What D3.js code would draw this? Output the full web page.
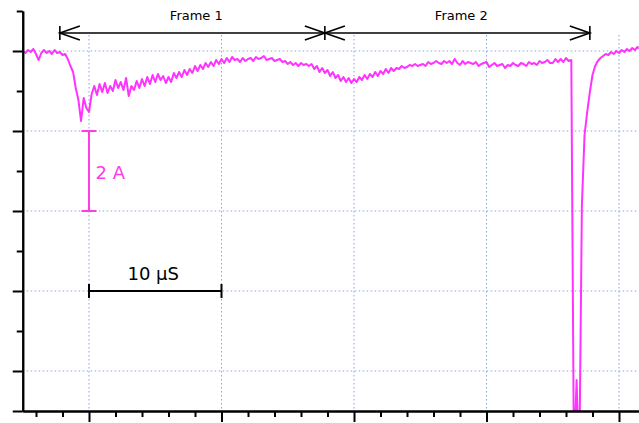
<!DOCTYPE html>
<html>
<head>
<meta charset="utf-8">
<script src="https://cdn.jsdelivr.net/npm/d3@7"></script>
<style>
  body { margin: 0; background: #fff; }
  svg { display: block; font-family: "DejaVu Sans", Verdana, sans-serif; }
</style>
</head>
<body>
<svg id="chart" width="639" height="423"></svg>
<script>
// scope capture, time in microseconds, current in mA
const traceStart = -5
const traceStep = 0.2
const traceMilliAmps = [
  0, -50, 25, -25, 50, -75, -225, -50, 25, -50,
  0, -75, 25, -50, -25, -100, -75, -200, -375, -525,
  -925, -1225, -1750, -1175, -1425, -1525, -1075, -875, -1100, -825,
  -1025, -800, -1050, -875, -1000, -725, -925, -775, -975, -675,
  -1125, -875, -975, -750, -925, -700, -875, -650, -825, -600,
  -775, -575, -725, -625, -800, -650, -775, -550, -675, -525,
  -650, -475, -600, -450, -550, -375, -500, -350, -450, -300,
  -400, -275, -375, -225, -325, -200, -300, -175, -275, -150,
  -225, -200, -275, -175, -250, -200, -175, -250, -150, -200,
  -175, -125, -225, -200, -175, -250, -225, -200, -275, -250,
  -325, -275, -350, -300, -375, -300, -350, -325, -375, -325,
  -450, -375, -525, -425, -550, -475, -625, -525, -675, -600,
  -750, -650, -775, -675, -800, -700, -775, -650, -725, -600,
  -700, -575, -650, -525, -625, -500, -575, -450, -550, -425,
  -500, -425, -450, -375, -425, -400, -350, -375, -325, -375,
  -350, -325, -375, -275, -325, -300, -250, -300, -325, -250,
  -300, -250, -325, -200, -300, -350, -250, -325, -275, -300,
  -325, -275, -375, -325, -300, -275, -400, -350, -300, -375,
  -350, -325, -425, -350, -375, -300, -350, -375, -300, -325,
  -375, -275, -325, -300, -350, -250, -300, -275, -225, -300,
  -300, -200, -275, -200, -275, -175, -250, -225, -10225, -8225,
  -10475, -3850, -2100, -1525, -1025, -600, -375, -250, -175, -125,
  -75, -100, -25, -75, 0, -50, 25, -25, 50, 0,
  75, 25, 100, 50
]

const xMajorTicks = [0, 10, 20, 30, 40]
const xMinorTicks = [-4, -2, 2, 4, 6, 8, 12, 14, 16, 18, 22, 24, 26, 28, 32, 34, 36, 38]
const yMajorTicks = [0, -2000, -4000, -6000, -8000, -9000]
const yMinorTicks = [1000, -1000, -3000, -5000, -7000]

const frameEdges = [-2.2, 17.8, 37.8]
const frameLabels = ['Frame 1', 'Frame 2']

const ampBar = [-2000, -4000]   // 2 A
const timeBar = [0, 10]         // 10 µs

const magenta = '#ff33ff'
const gridColor = '#7fa3ee'

const svg = d3.select('#chart')
const plot = { left: 22.75, right: 638.875, top: 11, bottom: 411 }

const xScale = d3.scaleLinear().domain([-5, 41.5]).range([plot.left, plot.right])
const yScale = d3.scaleLinear().domain([1000, -9000]).range([plot.top, plot.bottom])

const trace = traceMilliAmps.map((v, i) => ({ t: traceStart + i * traceStep, v: v }))

svg.append('defs').append('clipPath').attr('id', 'plotclip')
  .append('rect')
  .attr('x', plot.left).attr('y', plot.top)
  .attr('width', plot.right - plot.left).attr('height', plot.bottom - plot.top)

// dotted grid
svg.append('g').selectAll('line')
  .data(xMajorTicks)
  .enter().append('line')
  .attr('x1', d => xScale(d)).attr('x2', d => xScale(d))
  .attr('y1', 35).attr('y2', plot.bottom)
  .attr('stroke', gridColor).attr('stroke-width', 1)
  .attr('stroke-dasharray', '1.5,2.5')

svg.append('g').selectAll('line')
  .data(yMajorTicks.filter(d => d > -9000))
  .enter().append('line')
  .attr('x1', plot.left).attr('x2', plot.right)
  .attr('y1', d => yScale(d)).attr('y2', d => yScale(d))
  .attr('stroke', gridColor).attr('stroke-width', 1)
  .attr('stroke-dasharray', '1.5,2.5')

// the trace
const line = d3.line().x(d => xScale(d.t)).y(d => yScale(d.v))
svg.append('path')
  .datum(trace)
  .attr('clip-path', 'url(#plotclip)')
  .attr('fill', 'none')
  .attr('stroke', magenta)
  .attr('stroke-width', 2)
  .attr('stroke-linejoin', 'round')
  .attr('d', line)

// axes
function styleAxis(g) {
  g.selectAll('path').attr('stroke', '#000').attr('stroke-width', 2)
  g.selectAll('line').attr('stroke', '#000').attr('stroke-width', 2)
  g.selectAll('text').remove()
}

svg.append('g').attr('transform', 'translate(0,' + plot.bottom + ')')
  .call(d3.axisBottom(xScale).tickValues(xMinorTicks).tickSize(6).tickSizeOuter(0).tickFormat(''))
  .call(styleAxis)
svg.append('g').attr('transform', 'translate(0,' + plot.bottom + ')')
  .call(d3.axisBottom(xScale).tickValues(xMajorTicks).tickSize(11).tickSizeOuter(0).tickFormat(''))
  .call(styleAxis)

svg.append('g').attr('transform', 'translate(' + plot.left + ',0)')
  .call(d3.axisLeft(yScale).tickValues(yMinorTicks).tickSize(6).tickSizeOuter(0).tickFormat(''))
  .call(styleAxis)
svg.append('g').attr('transform', 'translate(' + plot.left + ',0)')
  .call(d3.axisLeft(yScale).tickValues(yMajorTicks).tickSize(10).tickSizeOuter(0).tickFormat(''))
  .call(styleAxis)

// frame arrows
const arrowY = 33
const ann = svg.append('g').attr('stroke', '#000').attr('stroke-width', 1.6).attr('fill', 'none')
ann.append('line')
  .attr('x1', xScale(frameEdges[0])).attr('x2', xScale(frameEdges[2]))
  .attr('y1', arrowY).attr('y2', arrowY)
frameEdges.forEach((e, i) => {
  const x = xScale(e)
  ann.append('line').attr('x1', x).attr('x2', x).attr('y1', arrowY - 7).attr('y2', arrowY + 7)
  if (i < frameEdges.length - 1) {
    ann.append('path').attr('d', 'M' + (x + 20) + ',' + (arrowY - 7) + 'L' + x + ',' + arrowY + 'L' + (x + 20) + ',' + (arrowY + 7))
  }
  if (i > 0) {
    ann.append('path').attr('d', 'M' + (x - 20) + ',' + (arrowY - 7) + 'L' + x + ',' + arrowY + 'L' + (x - 20) + ',' + (arrowY + 7))
  }
})

svg.append('g').selectAll('text')
  .data(frameLabels)
  .enter().append('text')
  .attr('x', (d, i) => xScale(frameEdges[i]) + 110)
  .attr('y', 20)
  .attr('font-size', 13)
  .attr('fill', '#000')
  .text(d => d)

// 2 A scale bar
const ampX = xScale(0)
const ab = svg.append('g').attr('stroke', '#ff3ce8').attr('stroke-width', 2)
ab.append('line').attr('x1', ampX).attr('x2', ampX).attr('y1', yScale(ampBar[0])).attr('y2', yScale(ampBar[1]))
ampBar.forEach(v => {
  ab.append('line').attr('x1', ampX - 7.5).attr('x2', ampX + 7.5).attr('y1', yScale(v)).attr('y2', yScale(v))
})
svg.append('text')
  .attr('x', ampX + 6.5).attr('y', 179)
  .attr('font-size', 18).attr('fill', '#ff3ce8')
  .text('2 A')

// 10 µs scale bar
const timeY = yScale(-6000)
const tb = svg.append('g').attr('stroke', '#000').attr('stroke-width', 2)
tb.append('line').attr('x1', xScale(timeBar[0])).attr('x2', xScale(timeBar[1])).attr('y1', timeY).attr('y2', timeY)
timeBar.forEach(t => {
  tb.append('line').attr('x1', xScale(t)).attr('x2', xScale(t)).attr('y1', timeY - 7).attr('y2', timeY + 7)
})
svg.append('text')
  .attr('x', (xScale(timeBar[0]) + xScale(timeBar[1])) / 2 - 2).attr('y', 280)
  .attr('text-anchor', 'middle')
  .attr('font-size', 18).attr('fill', '#000')
  .text('10 µS')
</script>
</body>
</html>
